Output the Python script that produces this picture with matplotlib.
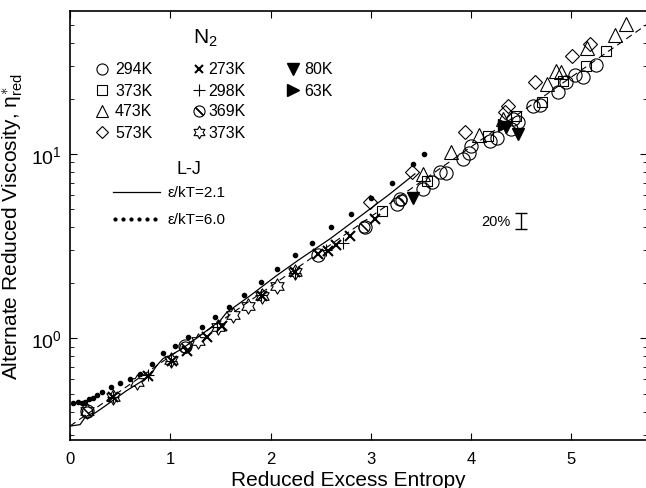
import numpy as np
import matplotlib
matplotlib.use('Agg')
import matplotlib.pyplot as plt
from matplotlib.path import Path

plt.rcParams['font.family'] = ['Liberation Sans', 'DejaVu Sans']
plt.rcParams['mathtext.fontset'] = 'custom'
plt.rcParams['mathtext.rm'] = 'Liberation Sans'
plt.rcParams['mathtext.it'] = 'Liberation Sans'
plt.rcParams['mathtext.bf'] = 'Liberation Sans:bold'

# ---- data ----
# N2, 294K (open circles)
c294_x = [0.165, 1.147, 2.476, 2.94, 3.257, 3.29, 3.52, 3.606, 3.689, 3.749, 3.921, 3.981,
          3.995, 4.194, 4.254, 4.40, 4.419, 4.47, 4.619, 4.686, 4.868, 4.952, 5.035, 5.118, 5.244]
c294_y = [0.403, 0.912, 2.83, 4.0, 5.36, 5.70, 6.46, 7.08, 7.96, 7.89, 9.4, 10.1,
          11.1, 11.7, 12.2, 13.7, 15.5, 14.9, 18.3, 18.5, 21.6, 24.7, 26.8, 26.1, 30.4]
# 373K squares
s373_x = [3.108, 3.556, 4.171, 4.453, 4.703, 4.918, 5.145, 5.351]
s373_y = [4.92, 7.17, 12.6, 16.1, 19.1, 25.0, 30.1, 36.4]
# 473K triangles
t473_x = [3.52, 3.799, 4.081, 4.32, 4.753, 4.852, 4.902, 5.152, 5.434, 5.550]
t473_y = [7.79, 10.2, 12.7, 15.5, 24.0, 28.3, 27.8, 37.4, 44.2, 50.7]
# 573K diamonds
d573_x = [2.991, 3.407, 3.938, 4.337, 4.370, 4.636, 5.002, 5.185]
d573_y = [5.47, 7.96, 13.1, 16.8, 18.3, 24.7, 34.1, 39.5]
# 273K crosses
x273_x = [0.432, 0.781, 1.014, 1.163, 1.363, 1.512, 1.911, 2.243, 2.476, 2.576, 2.652, 2.792, 3.04]
x273_y = [0.479, 0.627, 0.756, 0.857, 1.01, 1.17, 1.70, 2.28, 2.87, 2.99, 3.21, 3.60, 4.44]
# 298K plus
p298_x = [0.43, 0.78, 1.01, 1.47, 1.91, 2.24, 2.55, 2.72]
p298_y = [0.48, 0.63, 0.75, 1.15, 1.71, 2.27, 3.0, 3.3]
# 369K slashed circles
o369_x = [0.17, 1.15, 2.93, 3.30]
o369_y = [0.40, 0.90, 4.0, 5.6]
# 373K hexagrams
h373_x = [0.166, 0.432, 0.665, 1.01, 1.279, 1.479, 1.628, 1.778, 1.911, 2.061, 2.243]
h373_y = [0.405, 0.48, 0.577, 0.76, 0.97, 1.15, 1.33, 1.50, 1.70, 1.93, 2.28]
# 80K filled down triangles
v80_x = [3.423, 4.353, 4.47]
v80_y = [5.75, 14.0, 12.9]
# 63K filled right triangles
r63_x = [4.33]
r63_y = [14.3]

# L-J, eps/kT=2.1 (solid line)
lj21_x = [0.0, 0.100, 0.150, 0.199, 0.249, 0.332, 0.449, 0.565, 0.698, 0.798, 0.864, 0.930,
          0.997, 1.114, 1.229, 1.363, 1.496, 1.562, 1.795, 2.061, 2.293, 2.592, 2.924, 3.190, 3.440]
lj21_y = [0.334, 0.340, 0.372, 0.388, 0.393, 0.422, 0.469, 0.520, 0.577, 0.627, 0.710, 0.778,
          0.805, 0.875, 0.970, 1.10, 1.245, 1.38, 1.70, 2.19, 2.69, 3.46, 4.72, 6.07, 7.80]
# L-J, eps/kT=6.0 (dots)
lj60_x = [0.030, 0.075, 0.115, 0.150, 0.192, 0.229, 0.274, 0.319, 0.409, 0.499, 0.603, 0.703,
          0.818, 0.930, 1.047, 1.178, 1.316, 1.446, 1.590, 1.740, 1.904, 2.069, 2.243, 2.413,
          2.607, 2.802, 3.001, 3.207, 3.423, 3.532]
lj60_y = [0.446, 0.449, 0.443, 0.453, 0.469, 0.472, 0.492, 0.508, 0.544, 0.575, 0.601, 0.640,
          0.726, 0.832, 0.912, 1.02, 1.151, 1.31, 1.48, 1.72, 2.01, 2.38, 2.82, 3.27,
          4.02, 4.72, 5.77, 6.96, 8.83, 10.0]
# dashed fit line
fit_x = [0.0, 5.755]
fit_y = [0.334, 50.5]

# 20% error indicator
err_x = 4.5
err_y = 4.35

# hexagram marker shape
ang = np.pi / 2 + np.arange(12) * np.pi / 6
rad = np.where(np.arange(12) % 2 == 0, 1.0, 0.577)
hexverts = np.column_stack([rad * np.cos(ang), rad * np.sin(ang)])
hexverts = np.vstack([hexverts, hexverts[:1]])
hexagram = Path(hexverts, closed=True)

fig = plt.figure(figsize=(6.46, 4.89), dpi=100)
# right edge sits just past the picture, as in the reference
ax = fig.add_axes([70 / 646, 48 / 489, 577 / 646, 429 / 489])
ax.set_yscale('log')

ax.plot(fit_x, fit_y, color='k', lw=0.8, dashes=(6, 4))
ax.plot(lj21_x, lj21_y, color='k', lw=0.9)
ax.plot(lj60_x, lj60_y, 'o', color='k', ms=3, ls='none')

opn = dict(ls='none', mfc='none', mec='k', mew=0.8)
ax.plot(c294_x, c294_y, 'o', ms=9.5, **opn)
ax.plot(s373_x, s373_y, 's', ms=7.5, **opn)
ax.plot(t473_x, t473_y, '^', ms=9.5, **opn)
ax.plot(d573_x, d573_y, 'D', ms=7, **opn)
ax.plot(x273_x, x273_y, 'x', ms=7, ls='none', color='k', mew=1.5)
ax.plot(p298_x, p298_y, '+', ms=9, ls='none', color='k', mew=0.8)
ax.plot(o369_x, o369_y, 'o', ms=8, **opn)
ax.plot(o369_x, o369_y, marker=(2, 2, 45), ms=8, ls='none', color='k', mew=0.8)
ax.plot(h373_x, h373_y, marker=hexagram, ms=11, **opn)
ax.plot(v80_x, v80_y, 'v', ms=9, ls='none', color='k')
ax.plot(r63_x, r63_y, '>', ms=9, ls='none', color='k')

# 20% bar
ax.errorbar([err_x], [err_y], yerr=[[err_y - err_y * 0.9], [err_y * 1.1 - err_y]],
            fmt='none', ecolor='k', elinewidth=1.0, capsize=4, capthick=1.0)
ax.text(err_x - 0.11, err_y, '20%', ha='right', va='center', fontsize=10.5)

# hand-made legend (axes fraction)
T = ax.transAxes
W = 577.0
ax.text((205.5 - 70) / W, 0.939, r'N$_2$', transform=T, ha='center', va='center', fontsize=15)
leg_items = [
    ['o', '294K', 0], ['s', '373K', 0], ['^', '473K', 0], ['D', '573K', 0],
    ['x', '273K', 1], ['+', '298K', 1], ['slash', '369K', 1], ['hex', '373K', 1],
    ['v', '80K', 2], ['>', '63K', 2],
]
col_mx = [(102 - 70) / W, (199 - 70) / W, (293 - 70) / W]
col_tx = [(115 - 70) / W, (208 - 70) / W, (304 - 70) / W]
row = [0, 0, 0]
for mk, lab, col in leg_items:
    yy = (441 - (70 + 21 * row[col])) / 429
    row[col] += 1
    mx = col_mx[col]
    if mk in ('o', 's', '^', 'D'):
        sz = {'o': 8, 's': 7, '^': 8.5, 'D': 6}[mk]
        ax.plot([mx], [yy], mk, ms=sz, transform=T, **opn)
    elif mk == 'x':
        ax.plot([mx], [yy], 'x', ms=6, color='k', mew=1.5, transform=T)
    elif mk == '+':
        ax.plot([mx], [yy], '+', ms=9, color='k', mew=0.8, transform=T)
    elif mk == 'slash':
        ax.plot([mx], [yy], 'o', ms=8, transform=T, **opn)
        ax.plot([mx], [yy], marker=(2, 2, 45), ms=8, color='k', mew=0.9, transform=T)
    elif mk == 'hex':
        ax.plot([mx], [yy], marker=hexagram, ms=9, transform=T, **opn)
    else:
        ax.plot([mx], [yy], mk, ms=8, color='k', transform=T)
    ax.text(col_tx[col], yy, lab, transform=T, ha='left', va='center', fontsize=11.5)

ax.text((188.5 - 70) / W, 0.632, 'L-J', transform=T, ha='center', va='center', fontsize=13)
ax.plot([(113 - 70) / W, (160 - 70) / W], [0.578, 0.578], color='k', lw=0.9, transform=T)
ax.plot(np.linspace((115 - 70) / W, (155 - 70) / W, 6), [0.515] * 6, 'o', ms=2, color='k',
        transform=T)
ax.text((168 - 70) / W, 0.578, 'ε/kT=2.1', transform=T, ha='left', va='center', fontsize=11)
ax.text((168 - 70) / W, 0.515, 'ε/kT=6.0', transform=T, ha='left', va='center', fontsize=11)

ax.set_xlim(0, 5.755)
ax.set_ylim(0.2806, 59.7)
ax.set_xticks([0, 1, 2, 3, 4, 5])
ax.tick_params(which='both', direction='in', top=True, right=True)
ax.tick_params(which='major', length=5, width=0.8)
ax.tick_params(which='minor', length=3, width=0.6)
ax.tick_params(axis='x', pad=8, labelsize=12)
ax.tick_params(axis='y', pad=6, labelsize=14)
for sp in ax.spines.values():
    sp.set_linewidth(1.2)
ax.spines['right'].set_visible(False)

ax.set_xlabel('Reduced Excess Entropy', fontsize=15)
ax.xaxis.label.set_va('baseline')
ax.xaxis.set_label_coords((348.5 - 70) / W, (441 - 486) / 429)
ax.set_ylabel(r'Alternate Reduced Viscosity, $\eta^{\ast}_{\mathregular{red}}$', fontsize=15)

fig.savefig('out.png', dpi=100)
